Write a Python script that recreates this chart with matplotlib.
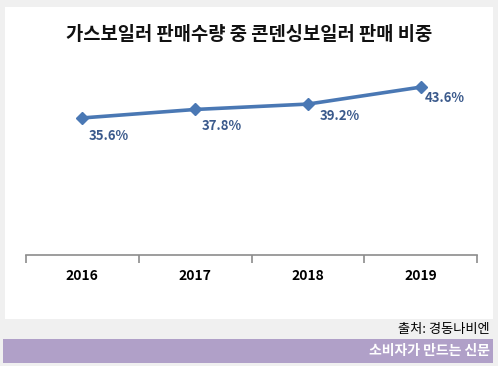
import matplotlib.pyplot as plt
from matplotlib import patches

plt.rcParams['font.family'] = ['Noto Sans CJK KR', 'DejaVu Sans']

years = ['2016', '2017', '2018', '2019']
share = [35.6, 37.8, 39.2, 43.6]
label_offsets = [(26, -18), (27, -17), (32, -12), (24, -11)]

title = '가스보일러 판매수량 중 콘덴싱보일러 판매 비중'
source = '출처: 경동나비엔'
banner = '소비자가 만드는 신문'

W, H = 498, 366
fig = plt.figure(figsize=(W / 100, H / 100), dpi=100)
fig.patch.set_facecolor('#f0f0f0')


def fx(px):
    return px / W


def fy(py):
    return 1 - py / H


# white chart panel and purple banner
fig.patches.append(patches.Rectangle((fx(5), fy(319)), fx(488), 312 / H,
                                     transform=fig.transFigure,
                                     facecolor='white', edgecolor='none', zorder=-1))
fig.patches.append(patches.Rectangle((fx(3), fy(363)), fx(490), 24 / H,
                                     transform=fig.transFigure,
                                     facecolor='#b0a0c8', edgecolor='none', zorder=-1))

# axes: x 26..477 px, y 255 (value 0) up to value 50
ax = fig.add_axes([fx(26), fy(255), fx(451), 192.5 / H])
ax.set_zorder(2)
ax.set_facecolor('none')
x = range(len(years))
ax.plot(x, share, color='#4a78b4', lw=2.6, marker='D', ms=6, zorder=3)
for i, v in enumerate(share):
    dx, dy = label_offsets[i]
    ax.annotate(f'{v}%', (i, v), xytext=(dx, dy), textcoords='offset pixels',
                ha='center', va='center', fontsize=9.5, fontweight='bold',
                color='#3b5a8c')

ax.set_xlim(-0.5, len(years) - 0.5)
ax.set_ylim(0, 50)
for s in ['top', 'right', 'left']:
    ax.spines[s].set_visible(False)
ax.spines['bottom'].set_color('#8c8c8c')
ax.spines['bottom'].set_linewidth(1.2)
ax.set_yticks([])
ax.set_xticks([i - 0.5 for i in range(len(years) + 1)])
ax.set_xticklabels([])
ax.tick_params(axis='x', length=6, color='#8c8c8c', width=1.2)
for i, yr in enumerate(years):
    ax.text(i, -21 / 3.85, yr, ha='center', va='center', fontsize=10,
            fontweight='bold', color='black', clip_on=False)

fig.text(0.5, fy(35), title, ha='center', va='center', fontsize=13.5,
         fontweight='bold', color='#111111')
fig.text(fx(490), fy(329), source, ha='right', va='center', fontsize=9.5,
         color='black')
fig.text(fx(490), fy(351), banner, ha='right', va='center', fontsize=10,
         fontweight='bold', color='white')

fig.savefig('out.png', dpi=100, facecolor=fig.get_facecolor())
